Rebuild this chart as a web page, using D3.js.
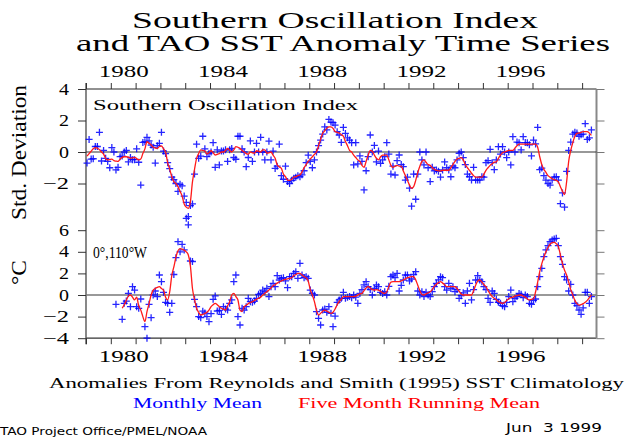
<!DOCTYPE html>
<html><head><meta charset="utf-8">
<script src="https://cdn.jsdelivr.net/npm/d3@7/dist/d3.min.js"></script>
<style>body{margin:0;background:#fff}svg{display:block}</style>
</head><body>
<svg id="c" width="627" height="440"></svg>
<script>
// ---------- data ----------
const soiStartYear = 1979;   // first monthly value = Jan 1979
const sstStartYear = 1980;   // first monthly value = Jan 1980

const soiMonthly = [
 -0.7, 0.8, -0.45, -0.43, 0.35, 0.35, 1.25, -0.57, 0.1, -0.4, -0.6, -1.0,
 0.28, 0.0, -1.14, -0.97, -0.3, -0.26, 0.0, 0.1, -0.63, -0.35, -0.49, -0.49,
 0.2, -0.65, -2.1, 0.61, 0.65, 0.93, 0.7, 0.44, 0.3, -0.7, 0.4, 0.55,
 1.25, 0.06, -0.1, -0.68, -1.06, -1.6, -1.75, -2.0, -2.5, -2.05, -2.15, -2.8,
 -3.2, -4.1, -3.4, -3.3, -1.4, 0.5, -0.4, -0.26, 1.0, 0.2, -0.3, -0.1,
 0.0, 0.59, -0.97, 0.14, -0.82, 0.06, 0.06, 0.14, -0.6, 0.14, 0.23, -0.35,
 -0.46, 1.0, 1.0, 0.2, 0.0, -0.93, -0.35, 0.7, -0.6, 0.0, 0.55, 0.0,
 0.93, 0.0, -0.5, 0.0, 0.69, -0.5, 0.06, -1.04, -0.9, 0.5, -1.5, -1.73,
 -0.9, -1.88, -2.0, -1.8, -1.67, -1.6, -1.5, -1.57, -1.45, -1.19, -0.68, -0.2,
 -0.6, -1.0, -0.5, 0.0, 0.4, 0.76, 1.14, 1.6, 1.4, 2.07, 1.9, 1.86,
 1.71, 1.29, 1.08, 0.61, 1.56, 1.18, 0.9, 0.76, 0.59, -0.82, 0.59, -0.76,
 -0.25, -0.6, -2.41, -1.19, -0.3, 1.08, 0.0, 0.42, -0.63, 0.06, -0.72, -0.5,
 -0.3, 0.59, -0.13, -1.4, -0.9, -1.46, -0.55, -0.19, -0.8, -0.93, -1.78, -1.6,
 -2.3, -3.44, -1.4, -3.0, -1.4, 0.0, -0.5, -0.82, 0.0, -1.0, -1.88, -0.97,
 -1.2, -1.14, -1.23, -1.59, -1.14, -0.63, -1.0, -1.14, -1.57, -0.89, -1.0, -0.5,
 -0.08, 0.0, -0.36, -0.8, -1.4, -1.57, -1.78, -0.97, -1.78, -1.78, -1.78, -1.57,
 -1.59, -0.68, -0.55, 0.17, -0.68, -1.12, -0.5, 0.34, -0.13, 0.34, 0.0, -0.36,
 0.0, -0.82, 0.97, 0.0, 0.63, 0.59, 0.13, 0.97, 0.6, 0.59, 0.46, -0.25,
 0.76, 0.51, 1.56, -1.12, -1.02, -1.5, -1.78, -2.0, -2.1, -1.78, -1.59, -1.57,
 -1.78, -3.28, -2.6, -3.5, -1.23, 0.1, 0.63, 1.14, 1.25, 1.2, 1.0, 1.1,
 1.14, 1.8, 0.8, 0.9, 1.4
];
const soiRunning = [
 -0.26, -0.1, 0.05, 0.2, 0.28, 0.25, 0.15, 0.0, -0.13, -0.4, -0.5, -0.47,
 -0.45, -0.55, -0.58, -0.6, -0.45, -0.34, -0.3, -0.3, -0.32, -0.4, -0.38, -0.34,
 -0.42, -0.5, -0.45, -0.1, 0.2, 0.65, 0.55, 0.44, 0.3, 0.25, 0.23, 0.35,
 0.38, 0.2, 0.0, -0.68, -1.1, -1.57, -1.88, -2.0, -2.2, -2.5, -2.8, -3.3,
 -3.5, -3.58, -3.15, -1.9, -1.1, -0.4, -0.1, 0.13, 0.1, 0.06, -0.13, -0.05,
 0.08, -0.05, -0.19, -0.15, -0.1, 0.0, 0.0, 0.1, 0.23, 0.1, 0.0, 0.13,
 0.34, 0.3, 0.23, 0.1, 0.0, -0.1, -0.13, 0.0, -0.05, -0.08, 0.08, 0.05,
 0.0, 0.13, 0.13, -0.08, -0.05, 0.0, -0.2, -0.4, -0.82, -0.95, -1.04, -1.4,
 -1.57, -1.78, -1.8, -1.73, -1.6, -1.57, -1.5, -1.46, -1.26, -1.0, -0.8, -0.6,
 -0.45, -0.3, -0.15, 0.0, 0.4, 0.8, 1.19, 1.35, 1.5, 1.6, 1.6, 1.5,
 1.3, 1.25, 1.2, 1.1, 1.0, 0.66, 0.4, 0.1, 0.0, -0.2, -0.35, -0.5,
 -0.6, -0.85, -0.97, -0.6, -0.2, 0.1, 0.05, -0.2, -0.4, -0.5, -0.3, -0.2,
 -0.2, -0.2, -0.5, -0.85, -0.97, -0.9, -0.85, -0.9, -0.9, -1.2, -1.5, -1.8,
 -2.1, -2.3, -2.2, -1.8, -1.3, -0.9, -0.6, -0.5, -0.65, -0.8, -0.85, -1.0,
 -1.1, -1.16, -1.2, -1.2, -1.16, -1.16, -1.16, -1.16, -1.0, -0.8, -0.6, -0.45,
 -0.4, -0.36, -0.5, -0.8, -1.0, -1.16, -1.35, -1.5, -1.6, -1.6, -1.6, -1.6,
 -1.4, -1.16, -1.0, -0.85, -0.75, -0.65, -0.63, -0.4, -0.2, -0.05, 0.0, 0.05,
 0.1, 0.1, 0.1, 0.25, 0.4, 0.5, 0.5, 0.5, 0.5, 0.5, 0.5, 0.5,
 0.5, 0.5, 0.3, -0.3, -0.8, -1.1, -1.3, -1.5, -1.6, -1.7, -1.75, -1.8,
 -1.9, -2.2, -2.5, -2.7, -1.9, -0.6, 0.1, 0.6, 1.0, 1.19, 1.2, 1.25,
 1.3, 1.3, 1.3, 1.2, 1.05
];
const sstMonthly = [
 null, null, -0.86, null, null, -2.25, -0.77, -0.56, 0.15, -1.08, 0.77, 0.46,
 -1.08, -1.23, -0.37, null, -2.93, -4.0, -0.86, -2.1, 0.0, 0.37, -0.15, 1.85,
 1.23, 0.25, -0.68, -0.77, -1.6, -0.77, 1.9, 3.46, 4.94, 4.0, 4.69, 4.17,
 7.1, 6.5, 3.15, 3.1, -0.4, -1.08, -2.0, -2.1, -1.5, -1.66, -2.0, -2.47,
 -1.73, -0.4, -0.09, -1.48, -1.42, -1.8, -1.08, -1.3, -1.4, -0.77, -0.46, 1.23,
 1.85, -2.0, -2.78, -1.23, -1.4, -1.08, -0.31, -0.62, -0.68, -0.56, -0.31, 0.06,
 0.15, 0.46, 0.3, 0.62, -0.15, 0.77, 1.08, 0.77, 1.8, 1.39, 1.54, 1.6,
 1.3, 0.68, 1.7, 1.7, 2.0, 2.16, 1.54, 2.93, 1.85, 1.6, 1.7, 1.54,
 0.46, 0.15, 0.0, -1.54, -2.16, -2.78, -1.39, -1.3, -1.6, -1.08, -1.7, -2.93,
 -1.95, -0.68, -0.46, -0.3, 0.25, -0.31, -0.2, -0.15, -0.25, 0.0, -0.2, -0.77,
 0.15, 0.5, 0.93, 1.23, 0.77, 0.5, 0.0, 0.6, 0.93, 0.77, 0.25, 0.15,
 0.3, 0.0, 0.8, 1.7, 1.85, 1.6, 2.0, 0.37, 0.9, 1.39, 1.85, 1.85,
 1.3, 1.48, 1.9, 2.16, 0.37, 0.0, 0.3, -0.15, 0.25, 0.0, -0.15, 0.31,
 0.77, 1.08, 1.4, 1.7, 1.6, 0.77, 0.46, 1.08, 0.6, 0.77, 0.31, 0.5,
 -0.31, -0.06, 0.2, -0.77, 0.37, 1.08, -0.46, 0.5, 1.39, 1.8, 1.39, 1.23,
 0.77, 0.5, -0.31, -0.68, 0.37, 0.15, -0.4, -0.68, -0.77, -0.99, -1.08, -0.68,
 -0.15, 0.46, -0.62, -0.3, -0.15, 0.15, 0.06, -0.25, 0.0, -0.15, -0.77, -0.86,
 -0.5, -0.37, 0.77, 1.7, 2.47, 3.55, 4.17, 4.57, 4.94, 5.1, 5.19, 5.25,
 4.57, 3.55, 2.84, 1.7, 1.4, 0.37, 0.99, 0.0, -0.77, -0.99, -1.39, -1.79,
 -1.2, 0.25, 0.25, -0.77, -0.15
];
const sstRunning = [
 null, null, null, null, null, -1.23, -0.9, -0.5, -0.1, 0.0, -0.2, -0.46,
 -0.2, -1.0, -1.4, -2.0, -2.47, -1.54, -0.8, 0.0, 0.46, 0.6, 0.7, 0.77,
 0.6, 0.46, -0.2, -0.46, 0.3, 1.8, 2.6, 3.5, 4.1, 4.3, 4.25, 4.15,
 4.0, 3.7, 2.7, 0.6, -0.4, -1.23, -1.6, -1.85, -1.8, -1.7, -1.6, -1.4,
 -1.08, -0.9, -0.77, -0.9, -1.08, -1.23, -1.3, -1.39, -1.0, -0.62, 0.0, 0.15,
 -0.15, -0.46, -1.4, -1.54, -1.1, -0.95, -0.8, -0.7, -0.62, -0.5, -0.4, -0.3,
 -0.2, 0.0, 0.15, 0.3, 0.46, 0.65, 0.85, 0.95, 1.1, 1.23, 1.3, 1.39,
 1.45, 1.5, 1.54, 1.6, 1.8, 1.9, 2.0, 2.0, 1.85, 1.7, 1.6, 1.3,
 0.5, 0.0, -0.62, -1.4, -1.85, -1.7, -1.5, -1.4, -1.5, -1.6, -1.7, -1.6,
 -1.3, -0.9, -0.6, -0.4, -0.15, -0.15, -0.15, -0.15, -0.15, -0.15, -0.1, 0.0,
 0.1, 0.15, 0.4, 0.65, 0.77, 0.65, 0.5, 0.46, 0.5, 0.46, 0.35, 0.2,
 0.15, 0.3, 0.8, 1.2, 1.23, 1.23, 1.23, 1.23, 1.3, 1.4, 1.5, 1.6,
 1.65, 1.7, 1.7, 1.4, 0.9, 0.4, 0.05, 0.0, 0.1, 0.2, 0.3, 0.5,
 0.8, 1.0, 1.15, 1.23, 1.1, 0.95, 0.77, 0.77, 0.77, 0.77, 0.77, 0.6,
 0.35, 0.1, 0.0, 0.0, 0.0, 0.0, 0.0, 0.4, 0.9, 1.3, 1.39, 1.2,
 0.95, 0.77, 0.4, 0.1, -0.15, -0.3, -0.45, -0.6, -0.7, -0.77, -0.7, -0.5,
 -0.35, -0.25, -0.2, -0.1, -0.05, 0.0, 0.0, -0.1, -0.2, -0.35, -0.46, -0.4,
 -0.35, 0.3, 1.2, 2.16, 2.9, 3.5, 4.0, 4.4, 4.7, 4.85, 4.88, 4.75,
 4.5, 3.7, 2.9, 2.3, 1.85, 1.2, 0.5, 0.0, -0.5, -0.8, -0.93, -0.9,
 -0.8, -0.68, -0.5, -0.25, 0.0
];

const yearTicks = [1979,1980,1981,1982,1983,1984,1985,1986,1987,1988,1989,1990,1991,1992,1993,1994,1995,1996,1997,1998,1999];
const yearLabels = [1980, 1984, 1988, 1992, 1996];
const soiTicks = [4, 2, 0, -2];
const sstTicks = [6, 4, 2, 0, -2, -4];

// ---------- drawing ----------
(function () {
const svg = d3.select("#c");
const SERIF = "'Liberation Serif', 'DejaVu Serif', serif";
const SANS = "'DejaVu Sans', 'Liberation Sans', sans-serif";

const x = d3.scaleLinear().domain([1979, 1999.58]).range([86, 596.5]);
const ySoi = d3.scaleLinear().domain([-4, 4]).range([215, 89]);
const ySst = d3.scaleLinear().domain([-4, 6]).range([338.2, 230.2]);

const fTop = ySoi(4), fBottom = ySst(-4), fLeft = x.range()[0], fRight = x.range()[1];

function hershey(sel, w) {
  sel.attr("textLength", w).attr("lengthAdjust", "spacingAndGlyphs");
}

// frame
svg.append("line").attr("x1", fLeft).attr("x2", fRight).attr("y1", fTop).attr("y2", fTop)
  .attr("stroke", "#222").attr("stroke-width", 1);
svg.append("line").attr("x1", fLeft).attr("x2", fRight).attr("y1", fBottom).attr("y2", fBottom)
  .attr("stroke", "#333").attr("stroke-width", 1.2);
svg.append("line").attr("x1", fLeft).attr("x2", fLeft).attr("y1", fTop - 6).attr("y2", fBottom + 6)
  .attr("stroke", "#555").attr("stroke-width", 1.4);
svg.append("line").attr("x1", fRight).attr("x2", fRight).attr("y1", fTop).attr("y2", fBottom)
  .attr("stroke", "#888").attr("stroke-width", 2);

// zero lines
svg.append("line").attr("x1", fLeft).attr("x2", fRight).attr("y1", ySoi(0)).attr("y2", ySoi(0))
  .attr("stroke", "#333").attr("stroke-width", 1.1);
svg.append("line").attr("x1", fLeft).attr("x2", fRight).attr("y1", ySst(0)).attr("y2", ySst(0))
  .attr("stroke", "#777").attr("stroke-width", 1.4);

function styleAxis(g, color) {
  g.select(".domain").remove();
  g.selectAll(".tick line").attr("stroke", color || "#333").attr("stroke-width", 1);
  g.selectAll("text").attr("font-family", SERIF).attr("font-size", 16).attr("fill", "#000");
}

// year ticks top / bottom
svg.append("g").attr("transform", `translate(0,${fTop})`)
  .call(d3.axisTop(x).tickValues(yearTicks).tickSize(6).tickFormat(""))
  .call(g => styleAxis(g));
svg.append("g").attr("transform", `translate(0,${fBottom})`)
  .call(d3.axisBottom(x).tickValues(yearTicks).tickSize(6).tickFormat(""))
  .call(g => styleAxis(g));

// year labels (centred in the year)
svg.append("g").attr("transform", `translate(0,${fTop})`)
  .call(d3.axisTop(x).tickValues(yearLabels.map(d => d + 0.5)).tickSize(0).tickPadding(12.5)
        .tickFormat(d => String(Math.floor(d))))
  .call(g => { styleAxis(g); hershey(g.selectAll("text"), 50); });
svg.append("g").attr("transform", `translate(0,${fBottom})`)
  .call(d3.axisBottom(x).tickValues(yearLabels.map(d => d + 0.5)).tickSize(0).tickPadding(12.5)
        .tickFormat(d => String(Math.floor(d))))
  .call(g => { styleAxis(g); hershey(g.selectAll("text"), 50); });

// y axes
const yfmt = d3.format("d");
function yAxisLeft(scale, ticks) {
  svg.append("g").attr("transform", `translate(${fLeft},0)`)
    .call(d3.axisLeft(scale).tickValues(ticks).tickSize(8).tickPadding(9).tickFormat(yfmt))
    .call(g => {
      styleAxis(g);
      g.selectAll("text").each(function(d) {
        hershey(d3.select(this), d < 0 ? 26 : 10);
      });
    });
}
function yAxisRight(scale, ticks) {
  svg.append("g").attr("transform", `translate(${fRight},0)`)
    .call(d3.axisRight(scale).tickValues(ticks).tickSize(8).tickFormat(""))
    .call(g => styleAxis(g, "#777"));
}
yAxisLeft(ySoi, soiTicks);
yAxisLeft(ySst, sstTicks);
yAxisRight(ySoi, soiTicks);
yAxisRight(ySst, sstTicks);

// marks
const plus = "M-3.5,0H3.5M0,-3.5V3.5";
function drawPanel(monthly, running, startYear, y) {
  const pts = monthly.map((v, i) => ({t: startYear + (i + 0.5) / 12, v}))
                     .filter(d => d.v !== null);
  svg.append("g").selectAll("path").data(pts).join("path")
    .attr("d", plus)
    .attr("transform", d => `translate(${x(d.t).toFixed(2)},${y(d.v).toFixed(2)})`)
    .attr("stroke", "#0000ff").attr("stroke-width", 1.3).attr("fill", "none")
    .attr("opacity", 0.85);
  const rl = running.map((v, i) => ({t: startYear + (i + 0.5) / 12, v}));
  svg.append("path").datum(rl)
    .attr("d", d3.line().defined(d => d.v !== null).x(d => x(d.t)).y(d => y(d.v)).curve(d3.curveMonotoneX))
    .attr("fill", "none").attr("stroke", "#ff1a1a").attr("stroke-width", 1.3);
}
drawPanel(soiMonthly, soiRunning, soiStartYear, ySoi);
drawPanel(sstMonthly, sstRunning, sstStartYear, ySst);

// texts
function txt(str, xx, yy, size, opts = {}) {
  const t = svg.append("text").attr("x", xx).attr("y", yy).text(str)
    .attr("font-family", opts.family || SERIF).attr("font-size", size)
    .attr("fill", opts.fill || "#000")
    .attr("text-anchor", opts.anchor || "start");
  if (opts.w) hershey(t, opts.w);
  if (opts.rotate) t.attr("transform", `rotate(-90,${xx},${yy})`);
  return t;
}
txt("Southern Oscillation Index", 335, 28, 23, {anchor: "middle", w: 406});
txt("and TAO SST Anomaly Time Series", 343, 51, 23, {anchor: "middle", w: 534});
txt("Southern Oscillation Index", 93, 110, 14, {w: 265});
txt("0°,110°W", 93, 257.7, 16, {w: 54});
txt("Std. Deviation", 26, 152.5, 22, {anchor: "middle", w: 135, rotate: true});
txt("°C", 26, 272.5, 22, {anchor: "middle", w: 25, rotate: true});
txt("Anomalies From Reynolds and Smith (1995) SST Climatology", 49, 388, 15, {w: 575});
txt("Monthly Mean", 133, 408, 15, {w: 129, fill: "#0000ff"});
txt("Five Month Running Mean", 298, 408, 15, {w: 242, fill: "#ff0000"});
txt("TAO Project Office/PMEL/NOAA", 0, 435, 11, {family: SANS, w: 207});
txt("Jun  3 1999", 506, 432, 12, {family: SANS, w: 96}).style("white-space", "pre");
})();
</script>
</body></html>
